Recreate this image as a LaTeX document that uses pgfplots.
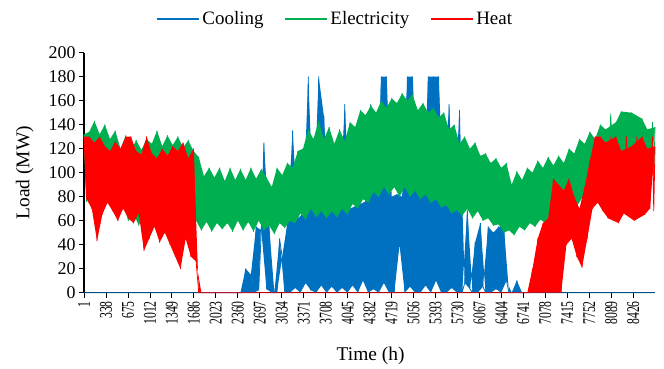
\documentclass[border=0pt]{standalone}
\usepackage{fontspec}
\setmainfont{Liberation Serif}
\usepackage{graphicx}
\usepackage{pgfplots}
\usepackage{pgfplotstable}
\usepgfplotslibrary{fillbetween}
\pgfplotsset{compat=1.18}

\definecolor{cool}{HTML}{0070C0}
\definecolor{elec}{HTML}{00B050}
\definecolor{heat}{HTML}{FF0000}

% hourly loads (MW), sampled every 40 h, alternating daily highs and lows
\pgfplotstableread{
h c e t
1 0 132 130
41 0 76 78
81 0 134 130
121 0 88 70
161 0 143 125
201 0 80 43
241 0 132 130
281 0 86 65
321 0 140 122
361 0 78 75
401 0 128 118
441 0 84 68
481 0 135 126
521 0 70 60
561 0 120 120
601 0 74 70
641 0 131 130
681 0 60 62
721 0 118 130
761 0 66 58
801 0 127 118
841 0 56 66
881 0 119 115
921 0 66 35
961 0 128 130
1001 0 58 45
1041 0 124 116
1081 0 68 55
1121 0 135 112
1161 0 57 42
1201 0 122 120
1241 0 65 50
1281 0 131 114
1321 0 58 40
1361 0 123 122
1401 0 64 30
1441 0 130 118
1481 0 55 20
1521 0 121 125
1561 0 63 45
1601 0 127 112
1641 0 55 30
1681 0 118 120
1721 0 60 26
1761 0 113 0
1801 0 52 0
1841 0 97 0
1881 0 59 0
1921 0 104 0
1961 0 51 0
2001 0 96 0
2041 0 58 0
2081 0 104 0
2121 0 53 0
2161 0 93 0
2201 0 58 0
2241 0 104 0
2281 0 51 0
2321 0 94 0
2361 0 60 0
2401 0 103 0
2441 0 52 0
2481 20 94 0
2521 0 59 0
2561 15 104 0
2601 0 51 0
2641 55 95 0
2681 2 60 0
2721 52 103 0
2761 125 52 0
2801 3 96 0
2841 55 56 0
2881 0 88 0
2921 0 49 0
2961 0 104 0
3001 45 58 0
3041 30 98 0
3081 0 54 0
3121 58 108 0
3161 0 60 0
3201 135 104 0
3241 4 58 0
3281 62 118 0
3321 0 66 0
3361 66 120 0
3401 8 61 0
3441 180 136 0
3481 2 70 0
3521 68 128 0
3561 0 63 0
3601 180 143 0
3641 6 68 0
3681 147 128 0
3721 0 62 0
3761 66 138 0
3801 5 68 0
3841 70 124 0
3881 0 63 0
3921 68 136 0
3961 4 70 0
4001 157 126 0
4041 0 65 0
4081 70 142 0
4121 6 74 0
4161 72 138 0
4201 0 70 0
4241 74 152 0
4281 10 78 0
4321 76 148 0
4361 0 75 0
4401 157 156 0
4441 3 84 0
4481 78 150 0
4521 0 80 0
4561 180 160 0
4601 8 88 0
4641 180 154 0
4681 0 82 0
4721 80 162 0
4761 0 88 0
4801 82 158 0
4841 40 80 0
4881 80 166 0
4921 0 88 0
4961 180 160 0
5001 5 80 0
5041 180 165 0
5081 0 85 0
5121 84 152 0
5161 0 78 0
5201 80 158 0
5241 6 82 0
5281 180 150 0
5321 0 75 0
5361 180 154 0
5401 10 78 0
5441 180 146 0
5481 0 71 0
5521 74 150 0
5561 0 73 0
5601 157 136 0
5641 4 66 0
5681 68 140 0
5721 0 69 0
5761 152 124 0
5801 0 64 0
5841 8 130 0
5881 69 70 0
5921 3 120 0
5961 0 62 0
6001 42 125 0
6041 0 68 0
6081 58 114 0
6121 5 60 0
6161 0 116 0
6201 55 62 0
6241 0 108 0
6281 50 56 0
6321 3 112 0
6361 55 57 0
6401 0 104 0
6441 54 50 0
6481 10 108 0
6521 0 52 0
6561 0 90 0
6601 0 48 0
6641 10 101 0
6681 0 55 0
6721 0 94 0
6761 0 52 0
6801 0 104 0
6841 0 58 0
6881 0 100 20
6921 0 55 0
6961 0 110 45
7001 0 61 0
7041 0 104 58
7081 0 58 0
7121 0 113 62
7161 0 66 0
7201 0 106 95
7241 0 62 0
7281 0 114 90
7321 0 69 0
7361 0 108 85
7401 0 66 40
7441 0 120 95
7481 0 74 45
7521 0 116 80
7561 0 72 30
7601 0 128 70
7641 0 79 21
7681 0 124 88
7721 0 76 45
7761 0 134 110
7801 0 83 70
7841 0 128 130
7881 0 79 75
7921 0 140 130
7961 0 87 68
8001 0 136 125
8041 0 84 62
8081 0 149 130
8121 0 91 72
8161 0 142 130
8201 0 88 58
8241 0 151 118
8281 0 93 66
8321 0 144 130
8361 0 90 70
8401 0 150 122
8441 0 95 60
8481 0 141 130
8521 0 92 74
8561 0 145 130
8601 0 96 65
8641 0 136 120
8681 0 93 70
8721 0 142 130
8741 0 94 68
8760 0 138 122
}\loads

\newcommand\xl[1]{\scalebox{0.65}[1]{#1}}

% even rows = daily highs, odd rows = daily lows
\pgfplotsset{
    hi/.style={draw=none, forget plot, y filter/.expression={mod(\coordindex,2)==0 ? y : nan}},
    lo/.style={draw=none, forget plot, y filter/.expression={mod(\coordindex,2)==1 ? y : nan}},
    zz/.style={line width=0.8bp, line join=round},
}

\begin{document}
\begin{tikzpicture}
\begin{axis}[
    set layers,
    /tikz/fill between/on layer=main,
    clip=false,
    scale only axis,
    width=571bp, height=240bp,
    xmin=1, xmax=8760, ymin=0, ymax=200,
    axis x line=bottom, axis y line=left,
    axis line style={-, black, line width=1.2bp},
    tick align=outside, major tick length=5bp,
    tick style={black, line width=0.8bp},
    xtick={1,338,675,1012,1349,1686,2023,2360,2697,3034,3371,3708,4045,4382,4719,5056,5393,5730,6067,6404,6741,7078,7415,7752,8089,8426},
    xticklabels={\xl{1},\xl{338},\xl{675},\xl{1012},\xl{1349},\xl{1686},\xl{2023},\xl{2360},\xl{2697},\xl{3034},\xl{3371},\xl{3708},\xl{4045},\xl{4382},\xl{4719},\xl{5056},\xl{5393},\xl{5730},\xl{6067},\xl{6404},\xl{6741},\xl{7078},\xl{7415},\xl{7752},\xl{8089},\xl{8426}},
    ytick={0,20,...,200},
    /pgf/number format/assume math mode=true,
    xticklabel style={rotate=90, anchor=east, font=\fontsize{18}{18}\selectfont},
    yticklabel style={font=\fontsize{18}{18}\selectfont},
    xlabel={Time (h)}, ylabel={Load (MW)},
    xlabel style={at={(axis description cs:0.502,-0.262)}, anchor=center, font=\fontsize{19.5}{22}\selectfont},
    ylabel style={at={(axis description cs:-0.104,0.5)}, anchor=center, font=\fontsize{19.5}{22}\selectfont},
    legend columns=-1,
    legend style={at={(0.44,1.14)}, anchor=center, draw=none, fill=none,
        font=\fontsize{19}{22}\selectfont,
        /tikz/every even column/.append style={column sep=19bp}},
    legend image code/.code={\draw[#1, line width=2bp] (0bp,0bp) -- (42bp,0bp);},
]
% cooling
\addplot[hi, name path=cA] table[x=h, y=c] {\loads};
\addplot[lo, name path=cB] table[x=h, y=c] {\loads};
\addplot[fill=cool, draw=none, forget plot] fill between[of=cA and cB];
\addplot[cool, zz] table[x=h, y=c] {\loads};
% electricity
\addplot[hi, name path=eA] table[x=h, y=e] {\loads};
\addplot[lo, name path=eB] table[x=h, y=e] {\loads};
\addplot[fill=elec, draw=none, forget plot] fill between[of=eA and eB];
\addplot[elec, zz] table[x=h, y=e] {\loads};
% heat
\addplot[hi, name path=tA] table[x=h, y=t] {\loads};
\addplot[lo, name path=tB] table[x=h, y=t] {\loads};
\addplot[fill=heat, draw=none, forget plot] fill between[of=tA and tB];
\addplot[heat, zz] table[x=h, y=t] {\loads};
\legend{Cooling, Electricity, Heat}
\end{axis}
\pgfresetboundingbox
\path[use as bounding box] (-84bp,-76.3bp) rectangle (580bp,292.7bp);
\end{tikzpicture}
\end{document}
